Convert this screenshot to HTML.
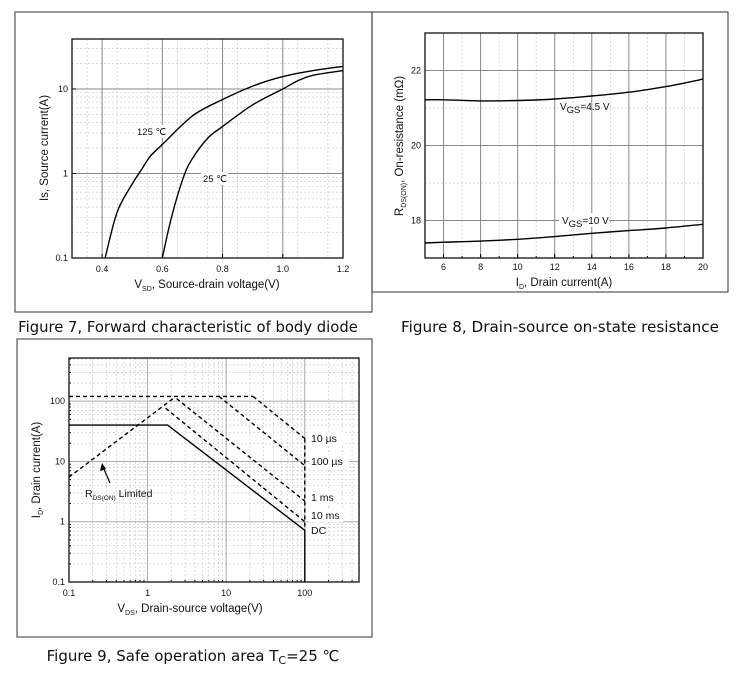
<!DOCTYPE html>
<html><head><meta charset="utf-8"><style>
html,body{margin:0;padding:0;background:#fff;}
body{width:743px;height:675px;position:relative;overflow:hidden;font-family:"Liberation Sans",sans-serif;}
svg{position:absolute;left:0;top:0;}
</style></head><body>
<svg id="s" width="743" height="675" font-family="Liberation Sans, sans-serif"></svg>
<script>
// Figure 7 data
const f7Volt125 = [0.41,0.45,0.5,0.53,0.56,0.6,0.7,0.8,0.9,1.0,1.1,1.2];
const f7Curr125 = [0.1,0.35,0.75,1.1,1.6,2.2,4.8,7.5,10.8,14,16.5,18.5];
const f7Volt25 = [0.6,0.63,0.67,0.7,0.75,0.8,0.9,1.0,1.05,1.1,1.2];
const f7Curr25 = [0.1,0.3,0.9,1.5,2.6,3.6,6.5,10,12.5,14.5,16.5];
const f7XTicks = [0.4,0.6,0.8,1.0,1.2];
const f7XLabels = ["0.4","0.6","0.8","1.0","1.2"];
const f7YTicks = [0.1,1,10];
const f7YLabels = ["0.1","1","10"];
// Figure 8 data
const f8Curr = [5,6,8,10,12,14,16,18,20];
const f8R45 = [21.22,21.22,21.19,21.2,21.24,21.32,21.42,21.57,21.77];
const f8R10 = [17.4,17.42,17.45,17.5,17.57,17.66,17.73,17.8,17.9];
const f8XTicks = [6,8,10,12,14,16,18,20];
const f8YTicks = [18,20,22];
// Figure 9 data
const f9DCv = [0.1,1.8,100,100];
const f9DCi = [40,40,0.72,0.1];
const f9RdsV = [0.1,2.2];
const f9RdsI = [5.5,115];
const f9TopV = [0.1,22];
const f9TopI = [120,120];
const f9P10usV = [22,100];
const f9P10usI = [120,24];
const f9P100usV = [8.1,100];
const f9P100usI = [120,8.5];
const f9P1msV = [2.35,100];
const f9P1msI = [110,2.2];
const f9P10msV = [1.7,100];
const f9P10msI = [76,1.0];
const f9VertV = [100,100];
const f9VertI = [24,0.72];
const f9XTicks = [0.1,1,10,100];
const f9XLabels = ["0.1","1","10","100"];
const f9YTicks = [0.1,1,10,100];
const f9YLabels = ["0.1","1","10","100"];

const NS="http://www.w3.org/2000/svg";
const svg=document.getElementById('s');
function el(tag,attrs,parent){const e=document.createElementNS(NS,tag);for(const k in attrs)e.setAttribute(k,attrs[k]);(parent||svg).appendChild(e);return e;}
function txt(x,y,s,size,anchor,name,parent,extra){const t=el('text',Object.assign({x:x,y:y,'font-size':size,'text-anchor':anchor||'start',fill:'#111'},extra||{}),parent);t.innerHTML=s;


return t;}
function linScale(d0,d1,r0,r1){return v=>r0+(v-d0)/(d1-d0)*(r1-r0);}
function logScale(d0,d1,r0,r1){return v=>r0+(Math.log10(v)-Math.log10(d0))/(Math.log10(d1)-Math.log10(d0))*(r1-r0);}
function line(xs,ys,sx,sy,name,dash,parent){const p=xs.map((v,i)=>sx(v).toFixed(1)+','+sy(ys[i]).toFixed(1)).join(' ');const e=el('polyline',{points:p,fill:'none',stroke:'#000','stroke-width':1.4,'stroke-dasharray':dash||'none'},parent);


return e;}
function smooth(xs,ys,sx,sy,name,parent){const P=xs.map((v,i)=>[sx(v),sy(ys[i])]);let d='M'+P[0][0].toFixed(1)+','+P[0][1].toFixed(1);
for(let i=0;i<P.length-1;i++){const p0=P[Math.max(0,i-1)],p1=P[i],p2=P[i+1],p3=P[Math.min(P.length-1,i+2)];
const c1=[p1[0]+(p2[0]-p0[0])/6,p1[1]+(p2[1]-p0[1])/6],c2=[p2[0]-(p3[0]-p1[0])/6,p2[1]-(p3[1]-p1[1])/6];
d+=' C'+c1.map(n=>n.toFixed(1)).join(',')+' '+c2.map(n=>n.toFixed(1)).join(',')+' '+p2[0].toFixed(1)+','+p2[1].toFixed(1);}
const e=el('path',{d:d,fill:'none',stroke:'#000','stroke-width':1.4},parent);


return e;}
function frame(x,y,w,h,name){const r=el('rect',{x:x,y:y,width:w,height:h,fill:'none',stroke:'#555','stroke-width':1.2});

}
function gline(x1,y1,x2,y2,c,w,dash,g){el('line',{x1:x1,y1:y1,x2:x2,y2:y2,stroke:c,'stroke-width':w,'stroke-dasharray':dash||'none'},g);}

// ---------- Figure 7 ----------
frame(15,12,357,300,'figure7-frame');
(function(){
 const L=72,T=39,R=343,B=258;
 const g=el('g',{});
 
 
 const sx=linScale(0.3,1.2,L,R), sy=logScale(0.1,39,B,T);
 for(let d=0.1;d<=10;d*=10){for(let k=2;k<=9;k++){const v=d*k;if(v<39){const y=sy(v);gline(L,y,R,y,'#ccc',0.7,'2,2',g);}}}
 for(let v=0.35;v<1.2;v+=0.1){gline(sx(v),T,sx(v),B,'#ccc',0.7,'2,2',g);}
 f7YTicks.forEach((v,i)=>{const y=sy(v);gline(L,y,R,y,'#888',1,null,g);gline(L,y,L+4,y,'#000',1,null,g);txt(L-4,y+3,f7YLabels[i],9,'end','y-tick-label',g);});
 f7XTicks.forEach((v,i)=>{const x=sx(v);gline(x,T,x,B,'#888',1,null,g);gline(x,B,x,B-4,'#000',1,null,g);txt(x,B+14,f7XLabels[i],9,'middle','x-tick-label',g);});
 el('rect',{x:L,y:T,width:R-L,height:B-T,fill:'none',stroke:'#222','stroke-width':1.4},g);
 smooth(f7Volt125,f7Curr125,sx,sy,'curve-125c',g);
 smooth(f7Volt25,f7Curr25,sx,sy,'curve-25c',g);
 el('rect',{x:135,y:125,width:33,height:13,fill:'#fff'},g);
 txt(137,135,'125 ℃',9.5,'start','label-125c',g);
 el('rect',{x:201,y:172,width:27,height:13,fill:'#fff'},g);
 txt(203,182,'25 ℃',9.5,'start','label-25c',g);
 txt(207,288,'V<tspan font-size="7" dy="3">SD</tspan><tspan dy="-3">, Source-drain voltage(V)</tspan>',11.5,'middle','x-axis-title',g);
 txt(0,0,'Is, Source current(A)',11.5,'middle','y-axis-title',g,{transform:'translate(48,148) rotate(-90)'});
})();
txt(188,332,'Figure 7, Forward characteristic of body diode',14.8,'middle','figure7-caption',null,{'font-family':'DejaVu Sans, sans-serif'});

// ---------- Figure 8 ----------
frame(372,12,356,280,'figure8-frame');
(function(){
 const L=425,T=33,R=703,B=258;
 const g=el('g',{});
 
 
 const sx=linScale(5,20,L,R), sy=linScale(17,23,B,T);
 for(let v=5;v<20;v+=1){if(!f8XTicks.includes(v))gline(sx(v),T,sx(v),B,'#ccc',0.7,'2,2',g);gline(sx(v),B,sx(v),B-2,'#000',1,null,g);}
 [19,21].forEach(v=>gline(L,sy(v),R,sy(v),'#ccc',0.7,'2,2',g));
 f8YTicks.forEach(v=>{const y=sy(v);gline(L,y,R,y,'#888',1,null,g);txt(L-4,y+3,String(v),9,'end','y-tick-label',g);});
 f8XTicks.forEach(v=>{const x=sx(v);gline(x,T,x,B,'#888',1,null,g);gline(x,B,x,B-4,'#000',1,null,g);txt(x,B+12,String(v),9,'middle','x-tick-label',g);});
 el('rect',{x:L,y:T,width:R-L,height:B-T,fill:'none',stroke:'#222','stroke-width':1.4},g);
 smooth(f8Curr,f8R45,sx,sy,'curve-vgs-4-5v',g);
 smooth(f8Curr,f8R10,sx,sy,'curve-vgs-10v',g);
 el('rect',{x:559,y:213,width:50,height:14,fill:'#fff'},g);
 txt(560,110,'V<tspan font-size="9.5" dy="3">GS</tspan><tspan dy="-3">=4.5 V</tspan>',10,'start','label-vgs-4-5v',g);
 txt(562,224,'V<tspan font-size="9.5" dy="3">GS</tspan><tspan dy="-3">=10 V</tspan>',10,'start','label-vgs-10v',g);
 txt(564,286,'I<tspan font-size="7" dy="3">D</tspan><tspan dy="-3">, Drain current(A)</tspan>',11.5,'middle','x-axis-title',g);
 txt(0,0,'R<tspan font-size="7" dy="3">DS(ON)</tspan><tspan dy="-3">, On-resistance (mΩ)</tspan>',11.5,'middle','y-axis-title',g,{transform:'translate(403,146) rotate(-90)'});
})();
txt(560,332,'Figure 8, Drain-source on-state resistance',15.2,'middle','figure8-caption',null,{'font-family':'DejaVu Sans, sans-serif'});

// ---------- Figure 9 ----------
frame(17,339,355,298,'figure9-frame');
(function(){
 const L=69,T=358,R=359,B=582;
 const g=el('g',{});
 
 
 const sx=logScale(0.1,490,L,R), sy=logScale(0.1,520,B,T);
 for(let d=0.1;d<=100;d*=10){for(let k=2;k<=9;k++){const v=d*k;if(v<490){gline(sx(v),T,sx(v),B,'#ccc',0.7,'2,2',g);gline(sx(v),B,sx(v),B-2,'#000',1,null,g);}if(v<520){gline(L,sy(v),R,sy(v),'#ccc',0.7,'2,2',g);gline(L,sy(v),L+2,sy(v),'#000',1,null,g);}}}
 f9YTicks.forEach((v,i)=>{const y=sy(v);gline(L,y,R,y,'#aaa',1,null,g);txt(L-4,y+3,f9YLabels[i],9,'end','y-tick-label',g);});
 f9XTicks.forEach((v,i)=>{const x=sx(v);gline(x,T,x,B,'#aaa',1,null,g);txt(x,B+14,f9XLabels[i],9,'middle','x-tick-label',g);});
 el('rect',{x:L,y:T,width:R-L,height:B-T,fill:'none',stroke:'#222','stroke-width':1.4},g);
 const dsh='4,3';
 line(f9DCv,f9DCi,sx,sy,'dc-limit',null,g);
 line(f9RdsV,f9RdsI,sx,sy,'rds-on-limit',dsh,g);
 line(f9TopV,f9TopI,sx,sy,'pulse-current-limit',dsh,g);
 line(f9P10usV,f9P10usI,sx,sy,'limit-10us',dsh,g);
 line(f9P100usV,f9P100usI,sx,sy,'limit-100us',dsh,g);
 line(f9P1msV,f9P1msI,sx,sy,'limit-1ms',dsh,g);
 line(f9P10msV,f9P10msI,sx,sy,'limit-10ms',dsh,g);
 line(f9VertV,f9VertI,sx,sy,'voltage-limit',dsh,g);
 [['10 µs',442],['100 µs',465],['1 ms',501],['10 ms',519],['DC',534]].forEach(a=>{el('rect',{x:309,y:a[1]-10,width:a[0].length*6+4,height:13,fill:'#fff'},g);txt(311,a[1],a[0],10.5,'start','pulse-label',g);});
 el('line',{x1:110,y1:483,x2:103,y2:467,stroke:'#000','stroke-width':1.2},g);
 el('polygon',{points:'102,463 100,471 106,469',fill:'#000'},g);
 txt(85,497,'R<tspan font-size="6.5" dy="3">DS(ON)</tspan><tspan dy="-3"> Limited</tspan>',10.5,'start','rds-limited-label',g);
 txt(190,612,'V<tspan font-size="7" dy="3">DS</tspan><tspan dy="-3">, Drain-source voltage(V)</tspan>',11.5,'middle','x-axis-title',g);
 txt(0,0,'I<tspan font-size="7" dy="3">D</tspan><tspan dy="-3">, Drain current(A)</tspan>',11.5,'middle','y-axis-title',g,{transform:'translate(40,470) rotate(-90)'});
})();
txt(193,661,'Figure 9, Safe operation area T<tspan font-size="11" dy="3">C</tspan><tspan dy="-3">=25  ℃</tspan>',15,'middle','figure9-caption',null,{'font-family':'DejaVu Sans, sans-serif'});
</script>
</body></html>
